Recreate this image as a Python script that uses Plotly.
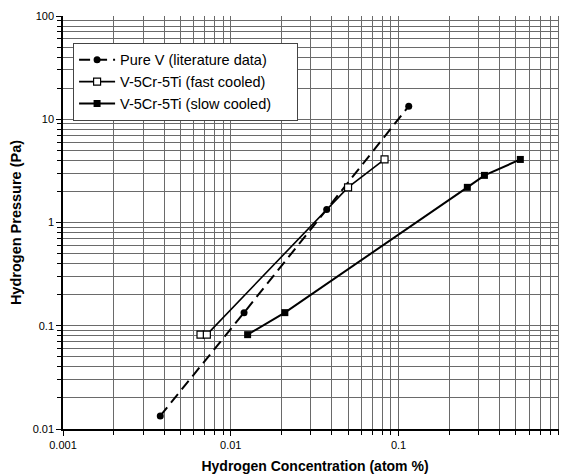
import plotly.graph_objects as go

pure_x = [0.0038, 0.012, 0.0373, 0.115]
pure_y = [0.0134, 0.134, 1.34, 13.4]
fast_x = [0.0066, 0.0072, 0.050, 0.0825]
fast_y = [0.082, 0.082, 2.19, 4.08]
slow_x = [0.0126, 0.021, 0.257, 0.325, 0.532]
slow_y = [0.082, 0.134, 2.19, 2.86, 4.08]

x_ticks = [0.001, 0.01, 0.1, 1]
x_labels = ["0.001", "0.01", "0.1", "1"]
y_ticks = [0.01, 0.1, 1, 10, 100]
y_labels = ["0.01", "0.1", "1", "10", "100"]

font = "Liberation Sans, Arial, sans-serif"
pad = "\u00a0" * 5

fig = go.Figure()
fig.add_trace(go.Scatter(x=pure_x, y=pure_y, mode="lines+markers",
                         name="Pure V (literature data)" + pad,
                         line=dict(color="black", width=2, dash="11px,6px"),
                         marker=dict(symbol="circle", size=7, color="black")))
fig.add_trace(go.Scatter(x=fast_x, y=fast_y, mode="lines+markers",
                         name="V-5Cr-5Ti (fast cooled)" + pad,
                         line=dict(color="black", width=1.6),
                         marker=dict(symbol="square", size=7, color="white",
                                     line=dict(color="black", width=1.2))))
fig.add_trace(go.Scatter(x=slow_x, y=slow_y, mode="lines+markers",
                         name="V-5Cr-5Ti (slow cooled)" + pad,
                         line=dict(color="black", width=2),
                         marker=dict(symbol="square", size=7, color="black")))

grid = "#6a6a6a"
fig.update_xaxes(type="log", range=[-3, 0.004], tickvals=x_ticks, ticktext=x_labels,
                 showgrid=True, gridcolor=grid, gridwidth=1,
                 minor=dict(dtick="D1", showgrid=True, gridcolor=grid, gridwidth=0.7,
                            ticks="outside", ticklen=4, tickcolor="black"),
                 showline=True, linecolor="black", linewidth=1.5, mirror=False,
                 ticks="outside", ticklen=5, tickcolor="black",
                 tickfont=dict(family=font, size=11, color="black"),
                 title=dict(text="<b>Hydrogen Concentration (atom %)</b>",
                            font=dict(family=font, size=14, color="black"), standoff=14),
                 zeroline=False)
fig.update_yaxes(type="log", range=[-2, 2], tickvals=y_ticks, ticktext=y_labels,
                 showgrid=True, gridcolor=grid, gridwidth=1,
                 minor=dict(dtick="D1", showgrid=True, gridcolor=grid, gridwidth=0.7,
                            ticks="outside", ticklen=4, tickcolor="black"),
                 showline=True, linecolor="black", linewidth=1.5, mirror=False,
                 ticks="outside", ticklen=5, tickcolor="black",
                 tickfont=dict(family=font, size=11, color="black"),
                 title=dict(text="<b>Hydrogen Pressure (Pa)</b>",
                            font=dict(family=font, size=14.5, color="black"), standoff=12),
                 zeroline=False)

# the page body adds an 8px margin, so the figure is sized to fit the window
fig.update_layout(width=559, height=466,
                  margin=dict(l=55, r=0, t=8, b=45, autoexpand=False),
                  paper_bgcolor="white", plot_bgcolor="white",
                  font=dict(family=font, color="black"),
                  showlegend=True,
                  legend=dict(x=0.02, y=0.935, xanchor="left", yanchor="top",
                              bgcolor="white", bordercolor="#444", borderwidth=1,
                              font=dict(family=font, size=14.5, color="black"),
                              itemwidth=36, tracegroupgap=0))

fig.write_html("out.html", config={"displayModeBar": False})
